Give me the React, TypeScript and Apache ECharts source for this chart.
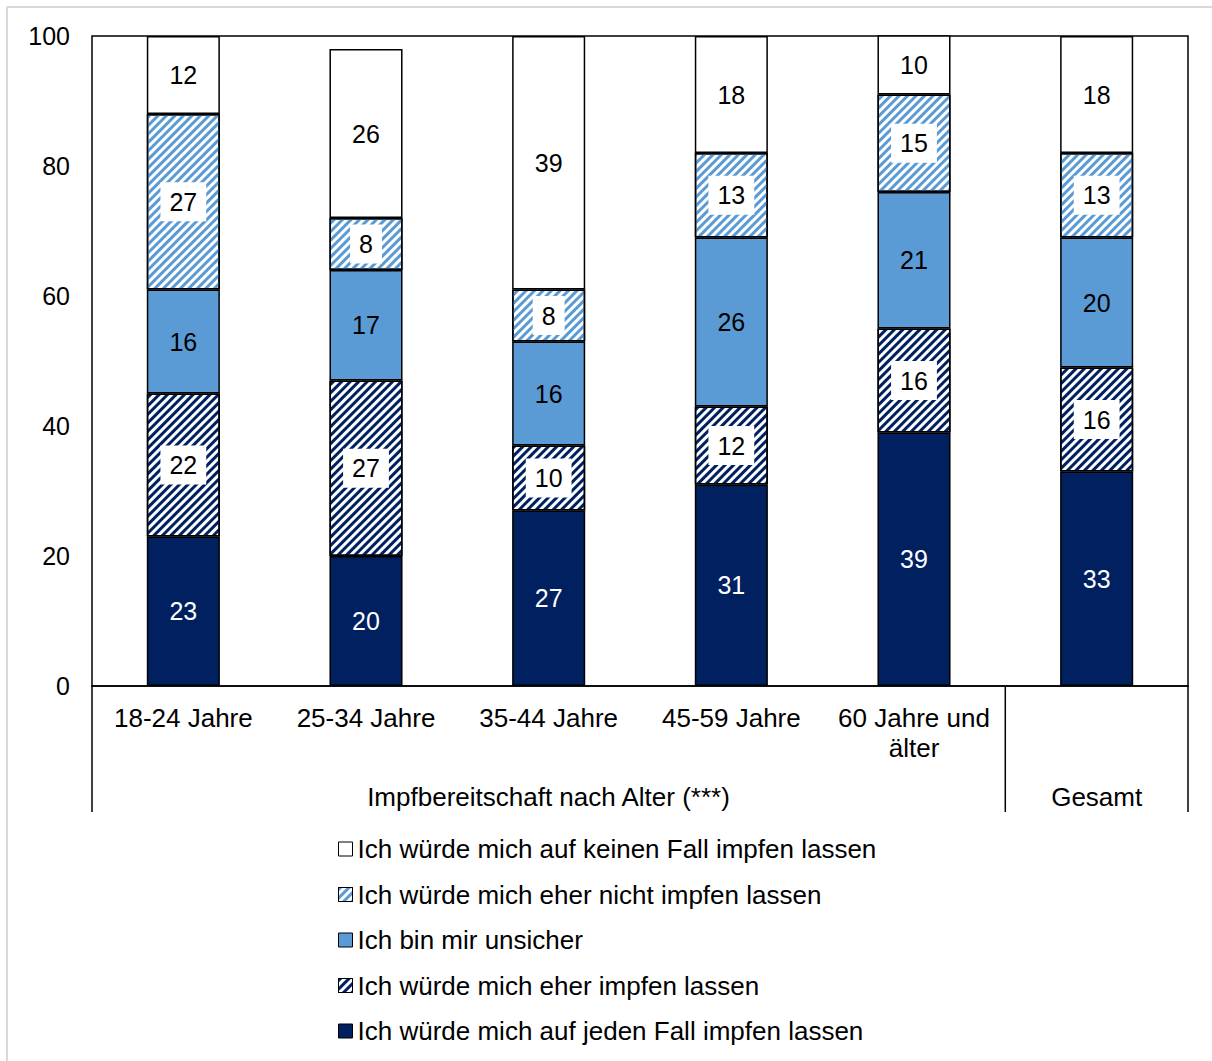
import React, { useEffect, useRef } from "react";
import * as echarts from "echarts";

const categories = ["18-24 Jahre", "25-34 Jahre", "35-44 Jahre", "45-59 Jahre", "60 Jahre und\nälter", "Gesamt"];
const jedenFall = [23, 20, 27, 31, 39, 33];
const eherImpfen = [22, 27, 10, 12, 16, 16];
const unsicher = [16, 17, 16, 26, 21, 20];
const eherNicht = [27, 8, 8, 13, 15, 13];
const keinenFall = [12, 26, 39, 18, 10, 18];
const yTicks = { min: 0, max: 100, interval: 20 };
const groupLabels = ["Impfbereitschaft nach Alter (***)", "Gesamt"];

const names = [
  "Ich würde mich auf jeden Fall impfen lassen",
  "Ich würde mich eher impfen lassen",
  "Ich bin mir unsicher",
  "Ich würde mich eher nicht impfen lassen",
  "Ich würde mich auf keinen Fall impfen lassen",
];

const NAVY = "#002060";
const MID = "#5B9BD5";
const FONT = "'Liberation Sans', Arial, Helvetica, sans-serif";

export default function App() {
  const ref = useRef<HTMLDivElement>(null);
  useEffect(() => {
    document.body.style.margin = "0";
    const chart = echarts.init(ref.current!, null, { renderer: "svg" });
    const stripe = (color: string) => ({
      symbol: "rect",
      symbolSize: 1,
      dashArrayX: [1, 0],
      dashArrayY: [2.1, 2.1],
      rotation: -Math.PI / 4,
      color,
      backgroundColor: "#ffffff",
    });
    const base = {
      type: "bar",
      stack: "s",
      barWidth: "40%",
      itemStyle: { borderColor: "#000", borderWidth: 1.5 },
    };
    const boxLabel = {
      show: true,
      position: "inside",
      fontSize: 25,
      lineHeight: 25,
      fontFamily: FONT,
      color: "#000",
      backgroundColor: "#fff",
      padding: [7, 9],
    };
    const plainLabel = { show: true, position: "inside", fontSize: 25, fontFamily: FONT, color: "#000" };
    const series = [
      { ...base, name: names[0], data: jedenFall, itemStyle: { ...base.itemStyle, color: NAVY }, label: { ...plainLabel, color: "#fff" } },
      { ...base, name: names[1], data: eherImpfen, itemStyle: { ...base.itemStyle, color: "#fff", decal: stripe(NAVY) }, label: boxLabel },
      { ...base, name: names[2], data: unsicher, itemStyle: { ...base.itemStyle, color: MID }, label: plainLabel },
      { ...base, name: names[3], data: eherNicht, itemStyle: { ...base.itemStyle, color: "#fff", decal: stripe(MID) }, label: boxLabel },
      { ...base, name: names[4], data: keinenFall, itemStyle: { ...base.itemStyle, color: "#fff" }, label: plainLabel },
    ];
    const sepY0 = 686, sepY1 = 812;
    const lastIdx = categories.length - 1;
    chart.setOption({
      animation: false,
      backgroundColor: "#fff",
      textStyle: { fontFamily: FONT },
      grid: { left: 92, right: 24, top: 36, bottom: 375, show: true, borderColor: "#000", borderWidth: 1.5 },
      xAxis: {
        type: "category",
        data: categories,
        axisLine: { lineStyle: { color: "#000", width: 1.5 } },
        axisTick: { show: false },
        axisLabel: {
          fontSize: 26,
          color: "#000",
          fontFamily: FONT,
          margin: 17,
          lineHeight: 30,
          interval: 0,
          formatter: (v: string, i: number) => (i === lastIdx ? "" : v),
        },
      },
      yAxis: {
        type: "value",
        ...yTicks,
        axisLine: { show: false },
        axisTick: { show: false },
        splitLine: { show: false },
        axisLabel: { fontSize: 25, color: "#000", fontFamily: FONT, margin: 22 },
      },
      legend: {
        orient: "vertical",
        left: 338,
        top: 836,
        padding: 0,
        itemWidth: 14,
        itemHeight: 14,
        itemGap: 19.5,
        icon: "rect",
        data: [names[4], names[3], names[2], names[1], names[0]],
        textStyle: { fontSize: 26, lineHeight: 26, color: "#000", fontFamily: FONT },
        itemStyle: { borderColor: "#000", borderWidth: 1 },
      },
      graphic: [
        { type: "line", shape: { x1: 7, y1: 7, x2: 1212, y2: 7 }, style: { stroke: "#d9d9d9", lineWidth: 2 } },
        { type: "line", shape: { x1: 7, y1: 7, x2: 7, y2: 1061 }, style: { stroke: "#d9d9d9", lineWidth: 2 } },
        { type: "line", shape: { x1: 92, y1: sepY0, x2: 92, y2: sepY1 }, style: { stroke: "#000", lineWidth: 1.5 } },
        { type: "line", shape: { x1: 1005.3, y1: sepY0, x2: 1005.3, y2: sepY1 }, style: { stroke: "#000", lineWidth: 1.5 } },
        { type: "line", shape: { x1: 1188, y1: sepY0, x2: 1188, y2: sepY1 }, style: { stroke: "#000", lineWidth: 1.5 } },
        { type: "text", x: 548.5, y: 797, style: { text: groupLabels[0], fontSize: 26, fontFamily: FONT, fill: "#000", align: "center", verticalAlign: "middle" } },
        { type: "text", x: 1096.7, y: 797, style: { text: groupLabels[1], fontSize: 26, fontFamily: FONT, fill: "#000", align: "center", verticalAlign: "middle" } },
      ],
      series,
    });
    return () => chart.dispose();
  }, []);
  return <div ref={ref} style={{ width: 1212, height: 1061 }} />;
}
